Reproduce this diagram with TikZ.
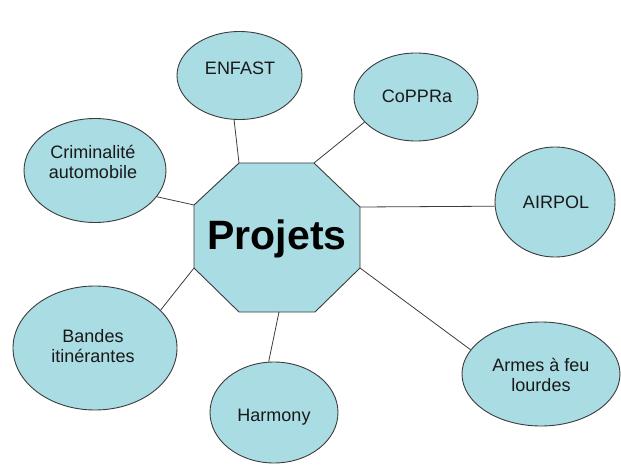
\documentclass[tikz,border=0pt]{standalone}
\usepackage{fontspec}
\setmainfont{Liberation Sans}
\usetikzlibrary{shapes.geometric}
\definecolor{bubble}{HTML}{A9DCE3}
\definecolor{edgec}{HTML}{3C3C3C}
\tikzset{
  bub/.style={ellipse, draw=edgec, line width=0.9pt, fill=bubble, inner sep=0pt},
  lbl/.style={align=center, inner sep=0pt, font=\fontsize{18}{20.5}\selectfont, text=black!90},
  link/.style={draw=edgec, line width=0.8pt},
}
\begin{document}
\begin{tikzpicture}[x=1pt,y=-1pt]
\useasboundingbox (0,0) rectangle (621,465);
% octagon vertices
\coordinate (o1) at (239,163);
\coordinate (o2) at (314,163);
\coordinate (o3) at (360,207);
\coordinate (o4) at (360,268);
\coordinate (o5) at (315,312);
\coordinate (o6) at (239,312);
\coordinate (o7) at (194,268);
\coordinate (o8) at (194,205);
\coordinate (ob) at (279,312);
\filldraw[fill=bubble, draw=edgec, line width=0.9pt, line join=miter]
  (o1) -- (o2) -- (o3) -- (o4) -- (o5) -- (o6) -- (o7) -- (o8) -- cycle;
\node[anchor=base, font=\fontsize{41}{45}\selectfont\bfseries] (proj) at (277,250) {Projets};

\node[bub, minimum width=125, minimum height=88] (enfast) at (239.5,75.5) {};
\node[bub, minimum width=124, minimum height=88] (coppra) at (416,97) {};
\node[bub, minimum width=142, minimum height=104] (crim) at (95,170.5) {};
\node[bub, minimum width=120, minimum height=110] (airpol) at (555,202) {};
\node[bub, minimum width=164, minimum height=124] (bandes) at (95,348) {};
\node[bub, minimum width=128, minimum height=101] (harm) at (274,412.5) {};
\node[bub, minimum width=158, minimum height=104] (armes) at (541,374) {};

\node[lbl] (enfast-t) at (240,68) {ENFAST};
\node[lbl] (coppra-t) at (417,96) {CoPPRa};
\node[lbl] (crim-t) at (93,162) {Criminalité\\automobile};
\node[lbl] (airpol-t) at (556,202) {AIRPOL};
\node[lbl] (bandes-t) at (93,346) {Bandes\\itinérantes};
\node[lbl] (harm-t) at (274,417) {Harmony};
\node[lbl] (armes-t) at (541,375) {Armes à feu\\lourdes};

\draw[link] (enfast.263) -- (o1);
\draw[link] (coppra.206) -- (o2);
\draw[link] (crim.337) -- (o8);
\draw[link] (airpol.184) -- (o3);
\draw[link] (bandes.30) -- (o7);
\draw[link] (harm.96) -- (ob);
\draw[link] (armes.161) -- (o4);
\end{tikzpicture}
\end{document}
